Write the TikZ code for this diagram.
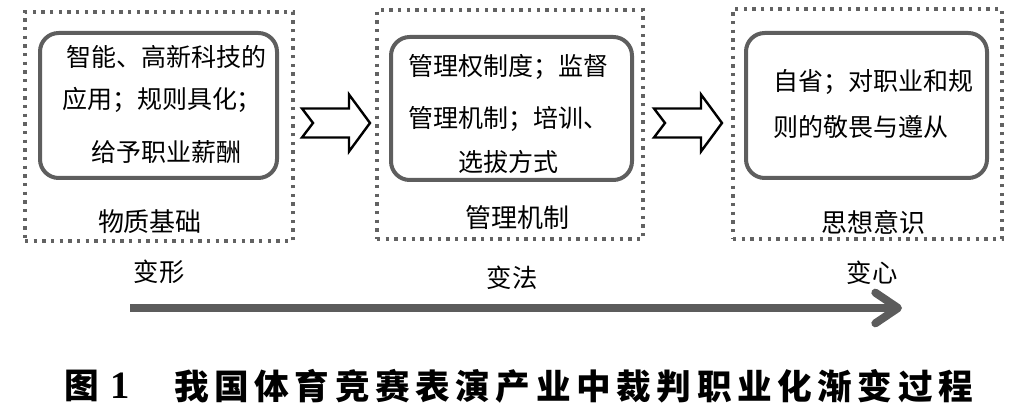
\documentclass[tikz,border=0pt]{standalone}
\usepackage{fontspec}
\setmainfont{Liberation Serif}
\newfontfamily\cjk{Noto Sans CJK SC}
\newfontfamily\cjkcap{Noto Sans CJK SC}[LetterSpace=16]
\usetikzlibrary{fit,arrows.meta}
\definecolor{dotgray}{HTML}{626262}
\definecolor{boxgray}{HTML}{5E5E5E}
\definecolor{arrgray}{HTML}{5C5C5C}
\tikzset{
  outerbox/.style={draw=dotgray, line width=2.5pt, dash pattern=on 2.6pt off 3.9pt, inner sep=0pt},
  innerbox/.style={draw=boxgray, line width=3pt, rounded corners=14pt, inner sep=0pt},
  txt/.style={font=\cjk\fontsize{18.75}{22}\selectfont, inner sep=0pt},
  lbl/.style={font=\cjk\fontsize{19.5}{22}\selectfont, inner sep=0pt},
  stage/.style={font=\cjk\fontsize{19}{22}\selectfont, inner sep=0pt},
  bigarrow/.style={draw=arrgray, line width=6pt, -{Straight Barb[length=17pt,width=23pt,line cap=round,line join=round]}},
  blockarr/.pic={\draw[line width=1.8pt, line join=miter] (0,-14.5) -- (47,-14.5) -- (47,-28.5) -- (68,0) -- (47,28.5) -- (47,14.5) -- (0,14.5) -- (11,0) -- cycle;}
}
\begin{document}
\begin{tikzpicture}[x=0.75pt,y=-0.75pt]
\useasboundingbox (0,0) rectangle (1026,420);
% outer dotted boxes
\node[outerbox, fit={(25,12) (293,241)}] (o1) {};
\node[outerbox, fit={(377,10) (643,239)}] (o2) {};
\node[outerbox, fit={(733,9) (1002,239)}] (o3) {};
% inner rounded boxes
\node[innerbox, fit={(40,33) (277,178)}] (i1) {};
\node[innerbox, fit={(391,37) (632,180)}] (i2) {};
\node[innerbox, fit={(746,33) (987,178)}] (i3) {};
% box texts
\node[txt] (t1a) at (166,57) {智能、高新科技的};
\node[txt] (t1b) at (162,100) {应用；规则具化；};
\node[txt] (t1c) at (166,152) {给予职业薪酬};
\node[txt] (t2a) at (508,67) {管理权制度；监督};
\node[txt] (t2b) at (508,119) {管理机制；培训、};
\node[txt] (t2c) at (508,162) {选拔方式};
\node[txt, anchor=west] (t3a) at (773,82) {自省；对职业和规};
\node[txt, anchor=west] (t3b) at (773,127) {则的敬畏与遵从};
% labels
\node[lbl] (l1) at (150,222) {物质基础};
\node[lbl] (l2) at (517,218) {管理机制};
\node[lbl] (l3) at (873,222) {思想意识};
% block arrows
\pic (arr1) at (302,123) {blockarr};
\pic (arr2) at (654,123) {blockarr};
% stages
\node[stage] (s1) at (159,272) {变形};
\node[stage] (s2) at (512,278) {变法};
\node[stage] (s3) at (872,273) {变心};
\coordinate (as) at (130,308);
\coordinate (ae) at (902,308);
\draw[bigarrow] (as) -- (ae);
% caption
\node[inner sep=0pt, font=\cjk\bfseries\fontsize{26}{30}\selectfont] (cfig) at (82,386) {图};
\node[inner sep=0pt, font=\bfseries\fontsize{29}{30}\selectfont] (cnum) at (120,386) {1};
\node[inner sep=0pt, anchor=west, font=\cjkcap\bfseries\fontsize{26}{30}\selectfont] (ctitle) at (174,386) {我国体育竞赛表演产业中裁判职业化渐变过程};
\end{tikzpicture}
\end{document}
